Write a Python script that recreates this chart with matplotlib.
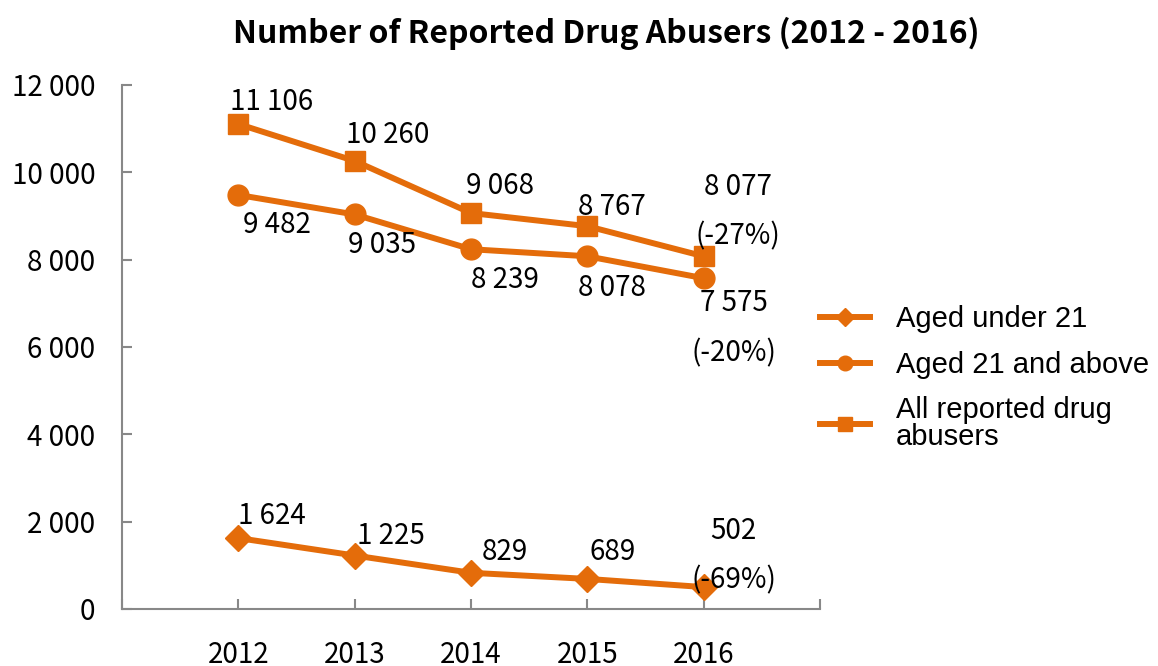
import numpy as np
import matplotlib
matplotlib.use("Agg")
import matplotlib.pyplot as plt
from matplotlib.ticker import FuncFormatter

years = ["2012", "2013", "2014", "2015", "2016"]
under_21 = [1624, 1225, 829, 689, 502]
aged_21_up = [9482, 9035, 8239, 8078, 7575]
all_abusers = [11106, 10260, 9068, 8767, 8077]
change_under = "(-69%)"
change_up = "(-20%)"
change_all = "(-27%)"

orange = "#E46C0A"
num_font = ["Noto Sans CJK TC", "DejaVu Sans"]
fig = plt.figure(figsize=(11.58, 6.66), dpi=100)
ax = fig.add_axes([122 / 1158, 1 - 609 / 666, 698 / 1158, 524 / 666])

x = np.arange(len(years))
l1, = ax.plot(x, under_21, color=orange, lw=4.3, marker="D", ms=13, label="Aged under 21")
l2, = ax.plot(x, aged_21_up, color=orange, lw=4.3, marker="o", ms=15, label="Aged 21 and above")
l3, = ax.plot(x, all_abusers, color=orange, lw=4.3, marker="s", ms=14, label="All reported drug\nabusers")

def fmt(v):
    return f"{v:,}".replace(",", " ")

# label offsets in pixels (dx, dy)
off_all = [(33, 22), (33, 26), (29, 27), (25, 19), (34, 45)]
off_up = [(39, -30), (27, -31), (34, -31), (25, -32), (30, -50)]
off_under = [(34, 22), (36, 20), (34, 21), (25, 27), (30, 31)]

for vals, offs, chg in [(all_abusers, off_all, change_all),
                        (aged_21_up, off_up, change_up),
                        (under_21, off_under, change_under)]:
    for i, v in enumerate(vals):
        txt = fmt(v)
        if i == len(vals) - 1:
            txt = txt + "\n" + chg
        ax.annotate(txt, (x[i], v), xytext=offs[i], textcoords="offset pixels",
                    ha="center", va="center", fontsize=20, family=num_font,
                    linespacing=1.85)

ax.set_xlim(-1, 5)
ax.set_ylim(0, 12000)
ax.set_yticks(np.arange(0, 12001, 2000))
ax.yaxis.set_major_formatter(FuncFormatter(lambda v, p: fmt(int(v))))
ax.set_xticks(np.arange(-1, 6))
ax.set_xticklabels([""] + years + [""])
ax.tick_params(axis="y", direction="in", length=7, width=1.5, color="#888888",
               pad=19, labelsize=20)
ax.tick_params(axis="x", direction="in", length=7, width=1.5, color="#888888",
               pad=22, labelsize=20)
for lab in ax.get_xticklabels() + ax.get_yticklabels():
    lab.set_family(num_font)
for s in ["top", "right"]:
    ax.spines[s].set_visible(False)
for s in ["left", "bottom"]:
    ax.spines[s].set_color("#888888")
    ax.spines[s].set_linewidth(1.5)

fig.text(606 / 1158, 1 - 33 / 666, "Number of Reported Drug Abusers (2012 - 2016)",
         ha="center", va="center", fontsize=23, family=num_font, fontweight="bold")

leg = fig.legend(handles=[l1, l2, l3], loc="upper left", bbox_to_anchor=(794 / 1158, 1 - 279 / 666),
                 frameon=False, prop={"family": "Liberation Sans", "size": 21},
                 handlelength=1.72, handletextpad=0.86, labelspacing=0.6, markerscale=0.7)
for t in leg.get_texts():
    t.set_linespacing(0.95)

fig.savefig("out.png", dpi=100)
